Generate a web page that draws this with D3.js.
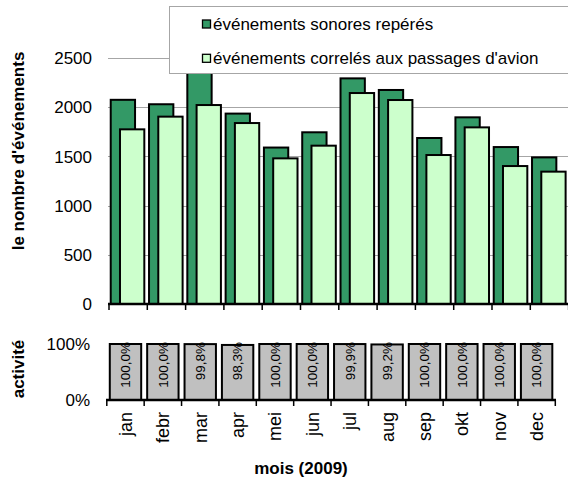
<!DOCTYPE html>
<html><head><meta charset="utf-8">
<script src="https://cdn.jsdelivr.net/npm/d3@7"></script>
<style>body{margin:0;background:#fff}svg{display:block;font-family:"Liberation Sans",Arial,sans-serif}</style>
</head><body>
<svg id="c" width="568" height="479"></svg>
<script>
const months = ["jan","febr","mar","apr","mei","jun","jul","aug","sep","okt","nov","dec"];
const sonores = [2075, 2030, 2400, 1935, 1590, 1745, 2293, 2175, 1687, 1897, 1595, 1490];
const correles = [1775, 1904, 2022, 1839, 1480, 1609, 2144, 2073, 1514, 1795, 1402, 1345];
const activite = [100.0, 100.0, 99.8, 98.3, 100.0, 100.0, 99.9, 99.2, 100.0, 100.0, 100.0, 100.0];
const yTicks = [0, 500, 1000, 1500, 2000, 2500];
const pctTicks = [0, 100];
const seriesNames = ["événements sonores repérés", "événements correlés aux passages d'avion"];
const colors = ["#339966", "#CCFFCC"];

const svg = d3.select("#c");
const fs = 17;

// ---------- top chart ----------
const x = d3.scaleBand().domain(months).range([109, 568.6]);
const y = d3.scaleLinear().domain([0, 2500]).range([304, 58]);
const bw = x.bandwidth();

const grid = svg.append("g");
grid.selectAll("line").data(yTicks.filter(d => d > 0)).join("line")
  .attr("x1", 108).attr("x2", 568).attr("y1", d => Math.round(y(d)) + 0.5).attr("y2", d => Math.round(y(d)) + 0.5)
  .attr("stroke", "#a6a6a6").attr("stroke-width", 1);

svg.append("g").selectAll("text").data(yTicks).join("text")
  .attr("x", 92).attr("y", d => y(d)).attr("dy", "0.36em")
  .attr("text-anchor", "end").attr("font-size", fs).text(d => d);

const barsG = svg.append("g");
months.forEach((m, i) => {
  barsG.append("rect")
    .attr("x", x(m) + bw * 0.045).attr("width", bw * 0.635)
    .attr("y", y(sonores[i])).attr("height", y(0) - y(sonores[i]))
    .attr("fill", colors[0]).attr("stroke", "#000").attr("stroke-width", 2);
});
months.forEach((m, i) => {
  barsG.append("rect")
    .attr("x", x(m) + bw * 0.287).attr("width", bw * 0.635)
    .attr("y", y(correles[i])).attr("height", y(0) - y(correles[i]))
    .attr("fill", colors[1]).attr("stroke", "#000").attr("stroke-width", 2);
});

// baseline & ticks
svg.append("line").attr("x1", 108).attr("x2", 568).attr("y1", y(0)).attr("y2", y(0))
  .attr("stroke", "#000").attr("stroke-width", 2.5);
svg.append("g").selectAll("line").data(months.concat(["_end"])).join("line")
  .attr("x1", (d, i) => 109 + i * bw).attr("x2", (d, i) => 109 + i * bw)
  .attr("y1", y(0)).attr("y2", y(0) + 6).attr("stroke", "#000").attr("stroke-width", 1.5);

// legend
const lg = svg.append("g");
lg.append("rect").attr("x", 169.5).attr("y", 6.5).attr("width", 420).attr("height", 67)
  .attr("fill", "#fff").attr("stroke", "#a6a6a6").attr("stroke-width", 1);
seriesNames.forEach((n, i) => {
  const cy = 24 + i * 34.3;
  lg.append("rect").attr("x", 202.5).attr("y", cy - 4).attr("width", 8).attr("height", 8)
    .attr("fill", colors[i]).attr("stroke", "#000").attr("stroke-width", 1.3);
  lg.append("text").attr("x", 213).attr("y", cy).attr("dy", "0.36em")
    .attr("font-size", fs).text(n);
});

// y title
svg.append("text").attr("transform", "translate(24,151) rotate(-90)")
  .attr("text-anchor", "middle").attr("font-size", fs).attr("font-weight", "bold")
  .text("le nombre d'événements");

// ---------- bottom chart ----------
const x2 = d3.scaleBand().domain(months).range([106.8, 555.3]).paddingInner(0.16).paddingOuter(0.08);
const y2 = d3.scaleLinear().domain([0, 100]).range([400, 344]);

svg.append("g").selectAll("rect").data(months).join("rect")
  .attr("x", d => x2(d)).attr("width", x2.bandwidth())
  .attr("y", (d, i) => y2(activite[i])).attr("height", (d, i) => y2(0) - y2(activite[i]))
  .attr("fill", "#c0c0c0").attr("stroke", "#000").attr("stroke-width", 2);

svg.append("g").selectAll("text").data(months).join("text")
  .attr("transform", (d, i) => `translate(${x2(d) + x2.bandwidth() / 2},${y2(100) - 2}) rotate(-90)`)
  .attr("dy", "0.36em").attr("text-anchor", "end").attr("font-size", 13.5)
  .text((d, i) => activite[i].toFixed(1).replace(".", ",") + "%");

svg.append("line").attr("x1", 106).attr("x2", 556).attr("y1", y2(0)).attr("y2", y2(0))
  .attr("stroke", "#000").attr("stroke-width", 2.5);
const step2 = (555.3 - 106.8) / 12;
svg.append("g").selectAll("line").data(d3.range(13)).join("line")
  .attr("x1", d => 106.8 + d * step2).attr("x2", d => 106.8 + d * step2)
  .attr("y1", y2(0)).attr("y2", y2(0) + 6).attr("stroke", "#000").attr("stroke-width", 1.5);

svg.append("g").selectAll("text").data(pctTicks).join("text")
  .attr("x", 90).attr("y", d => y2(d)).attr("dy", "0.36em")
  .attr("text-anchor", "end").attr("font-size", fs).text(d => d + "%");

// month labels
svg.append("g").selectAll("text").data(months).join("text")
  .attr("transform", d => `translate(${106.8 + (months.indexOf(d) + 0.5) * step2},412) rotate(-90)`)
  .attr("dy", "0.36em").attr("text-anchor", "end").attr("font-size", 18).text(d => d);

svg.append("text").attr("transform", "translate(24,369) rotate(-90)")
  .attr("text-anchor", "middle").attr("font-size", fs).attr("font-weight", "bold").text("activité");

svg.append("text").attr("x", 301).attr("y", 474).attr("text-anchor", "middle")
  .attr("font-size", fs).attr("font-weight", "bold").text("mois (2009)");
</script>
</body></html>
